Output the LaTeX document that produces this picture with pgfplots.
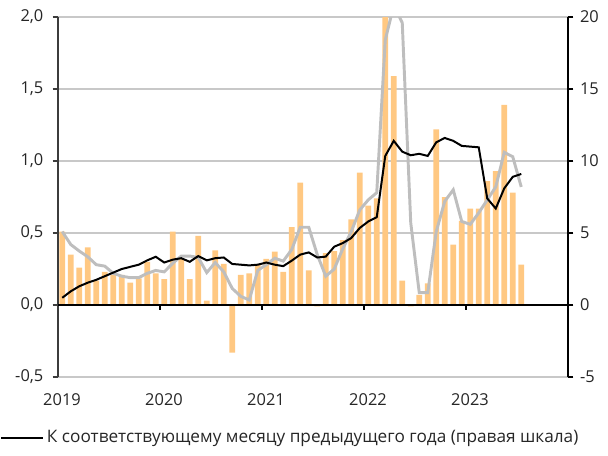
\documentclass[border=0pt]{standalone}
\usepackage{pgfplots}
\pgfplotsset{compat=1.18}
\usepackage{pgfplotstable}
\usepackage{fontspec}
\setmainfont{Open Sans}
\definecolor{barc}{RGB}{255,200,130}
\definecolor{grayl}{RGB}{190,190,190}
\definecolor{gridc}{RGB}{200,200,200}
\definecolor{axc}{RGB}{60,60,60}

\pgfplotstableread{
x bar gray black
0.5 0.51 5.1 0.5
1.5 0.35 4.2 0.95
2.5 0.26 3.75 1.3
3.5 0.40 3.35 1.55
4.5 0.17 2.8 1.75
5.5 0.23 2.7 2.0
6.5 0.21 2.2 2.25
7.5 0.21 2.0 2.5
8.5 0.155 1.9 2.65
9.5 0.185 1.9 2.8
10.5 0.30 2.2 3.1
11.5 0.22 2.4 3.35
12.5 0.18 2.3 2.95
13.5 0.51 2.9 3.15
14.5 0.32 3.4 3.25
15.5 0.18 3.4 3.0
16.5 0.48 3.3 3.4
17.5 0.03 2.25 3.1
18.5 0.38 2.95 3.25
19.5 0.285 2.3 3.3
20.5 -0.33 1.15 2.85
21.5 0.21 0.6 2.8
22.5 0.22 0.35 2.75
23.5 0.28 2.4 2.8
24.5 0.32 2.8 2.95
25.5 0.37 3.25 2.8
26.5 0.23 3.05 2.7
27.5 0.54 3.85 3.08
28.5 0.85 5.4 3.5
29.5 0.24 5.4 3.65
30.5 -0.01 3.5 3.3
31.5 0.36 2.0 3.36
32.5 0.375 2.5 4.05
33.5 0.45 3.9 4.3
34.5 0.595 5.1 4.65
35.5 0.92 6.6 5.35
36.5 0.69 7.3 5.8
37.5 0.74 7.8 6.1
38.5 2.3 18.4 10.35
39.5 1.59 20.8 11.4
40.5 0.17 19.6 10.65
41.5 -0.01 5.7 10.4
42.5 0.07 0.86 10.5
43.5 0.15 0.86 10.35
44.5 1.22 5.1 11.3
45.5 0.75 7.2 11.6
46.5 0.42 8.0 11.4
47.5 0.585 5.8 11.05
48.5 0.67 5.6 11.0
49.5 0.67 6.4 10.95
50.5 0.86 7.3 7.4
51.5 0.93 8.2 6.7
52.5 1.39 10.6 8.1
53.5 0.78 10.3 8.9
54.5 0.28 8.2 9.1
}\datatable

\pgfplotsset{
  common/.style={
    scale only axis, width=382.5pt, height=270pt,
    at={(0,0)}, anchor=south west,
    xmin=0, xmax=60,
    tick align=outside, major tick length=4pt,
    every tick label/.append style={font=\fontsize{12.3}{14}\selectfont, text=black!85},
    /pgf/number format/assume math mode=true,
  }
}

\begin{document}
\begin{tikzpicture}
\begin{axis}[common,
  ymin=-0.5, ymax=2, ytick={-0.5,0,0.5,1,1.5,2},
  axis y line*=left, axis x line*=bottom,
  x axis line style={draw=none},
  y axis line style={axc, line width=0.9pt},
  major y tick style={axc, line width=0.9pt},
  major x tick style={draw=none},
  xtick={0,12,24,36,48}, xticklabels={2019,2020,2021,2022,2023},
  xticklabel style={xshift=3pt, yshift=-5pt},
  yticklabel style={xshift=-3.5pt},
  ymajorgrids, grid style={gridc, line width=0.9pt},
  yticklabel style={/pgf/number format/.cd, fixed, fixed zerofill, precision=1, use comma},
]
\addplot[ybar, bar width=0.65, fill=barc, draw=none] table[x=x, y=bar] {\datatable};
\draw[black, line width=1pt] (axis cs:0,0) -- (axis cs:60,0);
\pgfplotsinvokeforeach{12,24,36,48}{\draw[black, line width=0.9pt] (axis cs:#1,0) -- ([yshift=-4pt]axis cs:#1,0);}
\end{axis}
\begin{axis}[common,
  ymin=-5, ymax=20, ytick={-5,0,5,10,15,20},
  axis y line*=right, axis x line=none,
  y axis line style={black, line width=0.9pt},
  major y tick style={black, line width=0.9pt},
  yticklabel style={xshift=1.5pt},
  legend style={draw=none, fill=none, at={(-0.1137,-0.169)}, anchor=west, inner sep=0pt, outer sep=0pt,
    font=\fontsize{12.9}{15}\selectfont, text=black!85},
  legend image code/.code={\draw[#1, line width=1.7pt] (0pt,0pt) -- (31.5pt,0pt);},
]
\addplot[grayl, line width=2.2pt, forget plot] table[x=x, y=gray] {\datatable};
\addplot[black, line width=1.5pt] table[x=x, y=black] {\datatable};
\addlegendentry{К соответствующему месяцу предыдущего года (правая шкала)}
\end{axis}
\pgfresetboundingbox
\path[use as bounding box] (-43.5pt,-58.5pt) rectangle (412.5pt,282.75pt);
\end{tikzpicture}
\end{document}
